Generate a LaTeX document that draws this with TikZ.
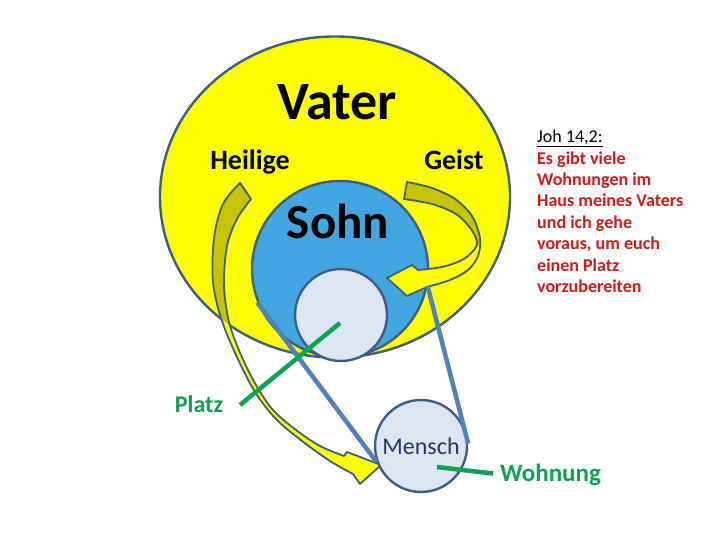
\documentclass[tikz,border=0pt]{standalone}
\usepackage{fontspec}
\setmainfont{Carlito}
\usetikzlibrary{shapes.geometric, positioning, calc}
\usepackage{xcolor}
\definecolor{Gelb}{HTML}{FFFF00}
\definecolor{Oliv}{HTML}{C9C400}
\definecolor{SohnBlau}{HTML}{42A7E0}
\definecolor{HellBlau}{HTML}{DCE6F2}
\definecolor{Rand}{HTML}{3E5F7C}
\definecolor{KreisRand}{HTML}{3B5C8C}
\definecolor{LinienBlau}{HTML}{4F81BD}
\definecolor{Gruen}{HTML}{0DA450}
\definecolor{BibelRot}{HTML}{D41A1A}
\definecolor{Marine}{HTML}{1F3864}

% outlines of the two twisted arrows (pixel coordinates, y downwards)
\newcommand{\heiligePfeil}{%
  plot[smooth, tension=0.55] coordinates {(240,183) (223,204) (214,238) (213,282) (221,318) (236,355) (255,392) (276,419) (302,441) (330,461) (353,474)}
  -- (360,484) -- (381,465) -- (347,452) -- (344,456)
  -- plot[smooth, tension=0.55] coordinates {(344,456) (320,446) (296,430) (273,410) (256,385) (241,355) (229,322) (224,285) (227,246) (237,219) (251,199)}
  -- cycle}
\newcommand{\geistPfeil}{%
  plot[smooth, tension=0.55] coordinates {(407,182) (432,188) (455,199) (472,216) (480,238) (478,256) (468,270) (450,280) (427,287)}
  -- (407,296) -- (387,278) -- (412,265) -- (418,270)
  -- plot[smooth, tension=0.55] coordinates {(418,270) (442,267) (462,260) (474,250) (477,242) (471,229) (456,214) (432,204) (404,199)}
  -- cycle}

\begin{document}
\begin{tikzpicture}[
    % pixel grid of the page
    x=1pt, y=-1pt,
    % Styles for the circles
    vaterkreis/.style={
        ellipse,
        draw=Rand,
        fill=Gelb,
        line width=2.4pt,
        minimum width=350pt,
        minimum height=321pt,
        inner sep=0pt
    },
    kreis/.style={
        circle,
        draw=Rand,
        line width=2.4pt,
        inner sep=0pt
    },
    % Styles for the lines
    pfeilrand/.style={
        draw=Rand,
        line width=1.8pt,
        line join=round
    },
    verbindung/.style={
        draw=LinienBlau,
        line width=4.5pt
    },
    zeiger/.style={
        draw=Gruen,
        line width=4.5pt
    },
    % Style for the labels
    beschriftung/.style={
        anchor=base,
        inner sep=0pt
    }
]

    \fill[white] (0,0) rectangle (720,540);
    \useasboundingbox (0,0) rectangle (720,540);

    % --- Circles ---

    % Vater
    \node[vaterkreis] (vaterkreis) at (335,197) {};

    % Sohn
    \node[kreis, fill=SohnBlau, minimum size=176pt] (sohn) at (340,269) {};

    % Platz im Sohn
    \node[kreis, draw=KreisRand, fill=HellBlau, minimum size=92pt] (platzkreis) at (341,315) {};

    % --- Arrows of the Spirit ---

    % Heilige (left)
    \fill[Gelb] \heiligePfeil;
    \begin{scope}
        \clip (335,197) ellipse [x radius=175, y radius=160];
        \fill[Oliv] \heiligePfeil;
    \end{scope}
    \draw[pfeilrand] \heiligePfeil;

    % Geist (right)
    \fill[Gelb] \geistPfeil;
    \begin{scope}
        \clip (380,170) rectangle (500,245);
        \fill[Oliv] \geistPfeil;
    \end{scope}
    \draw[pfeilrand] \geistPfeil;

    % Mensch
    \node[kreis, draw=KreisRand, fill=HellBlau, minimum size=92pt, text=Marine,
        font=\fontsize{24}{28}\selectfont] (mensch) at (421,446) {Mensch};

    % --- Edges ---

    % Sohn -> Mensch
    \draw[verbindung] (sohn.202) -- (mensch.200);
    \draw[verbindung] (sohn.-11) -- (mensch.3);

    % --- Labels ---

    \node[beschriftung, font=\bfseries\fontsize{54}{60}\selectfont] (vater) at (337,120) {Vater};
    \node[beschriftung, font=\bfseries\fontsize{28}{32}\selectfont] (heilige) at (250,170) {Heilige};
    \node[beschriftung, font=\bfseries\fontsize{28}{32}\selectfont] (geist) at (454,170) {Geist};
    \node[beschriftung, font=\bfseries\fontsize{49}{56}\selectfont] (sohntext) at (338,238) {Sohn};
    \node[beschriftung, text=Gruen, font=\bfseries\fontsize{24}{28}\selectfont] (platz) at (199,412) {Platz};
    \node[beschriftung, anchor=base west, text=Gruen, font=\bfseries\fontsize{25}{30}\selectfont] (wohnung) at (500,481) {Wohnung};

    % Joh 14,2
    \node[anchor=north west, inner sep=0pt, align=left, text=BibelRot,
        font=\bfseries\fontsize{18}{21.4}\selectfont] (bibelvers) at (537,130)
        {{\mdseries\color{black}\underline{Joh 14,2:}}\\Es gibt viele\\Wohnungen im\\Haus meines Vaters\\und ich gehe\\voraus, um euch\\einen Platz\\vorzubereiten};

    % --- Pointers ---
    \coordinate (platzA) at (240,405);
    \coordinate (platzB) at (340,323);
    \draw[zeiger] (platzA) -- (platzB);

    \coordinate (wohnungA) at (437,467);
    \draw[zeiger, shorten >=7pt] (wohnungA) -- (wohnung.west);

\end{tikzpicture}
\end{document}
